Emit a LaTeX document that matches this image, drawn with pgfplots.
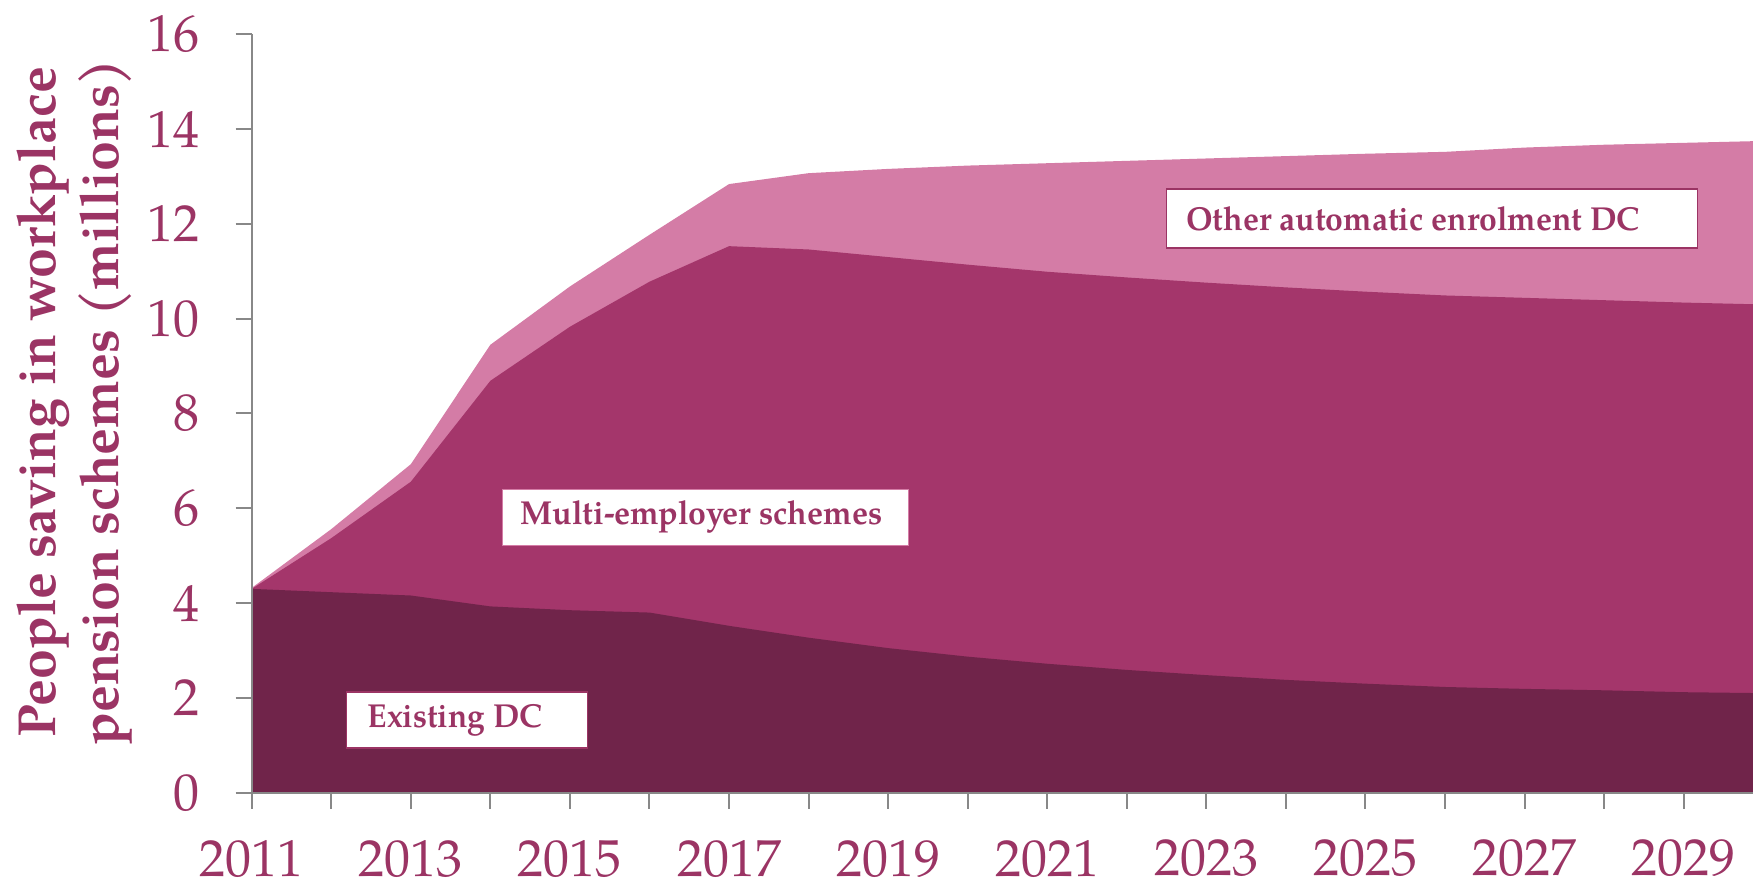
\documentclass[border=0pt]{standalone}
\usepackage{fontspec}
\setmainfont{texgyrepagella}[Extension=.otf,UprightFont=*-regular,BoldFont=*-bold,ItalicFont=*-italic,BoldItalicFont=*-bolditalic]
\usepackage{graphicx}
\usepackage{pgfplots}
\pgfplotsset{compat=1.18}
\usepackage{pgfplotstable}

\definecolor{darkc}{RGB}{112,36,74}
\definecolor{midc}{RGB}{164,54,107}
\definecolor{lightc}{RGB}{212,124,166}
\definecolor{textc}{RGB}{155,52,100}
\definecolor{axisgray}{RGB}{136,136,136}

% cumulative tops of the stacked areas (millions)
\pgfplotstableread{
year existing multi total
2011 4.30 4.30 4.32
2012 4.23 5.37 5.56
2013 4.16 6.56 6.93
2014 3.93 8.69 9.45
2015 3.85 9.83 10.68
2016 3.80 10.78 11.77
2017 3.52 11.53 12.84
2018 3.27 11.46 13.07
2019 3.05 11.30 13.16
2020 2.87 11.14 13.23
2021 2.72 10.99 13.28
2022 2.59 10.87 13.33
2023 2.48 10.76 13.38
2024 2.38 10.66 13.43
2025 2.30 10.57 13.48
2026 2.23 10.49 13.52
2027 2.19 10.44 13.61
2028 2.16 10.39 13.67
2029 2.12 10.34 13.71
2030 2.10 10.30 13.75
}\datatable

\begin{document}
\begin{tikzpicture}
\path[use as bounding box] (0,0) rectangle (876.5pt,441pt);
\begin{axis}[
  at={(125.85pt,44.65pt)}, anchor=south west,
  scale only axis, width=750.65pt, height=379.2pt,
  xmin=2011, xmax=2029.87, ymin=0, ymax=16,
  axis x line*=bottom, axis y line*=left,
  axis line style={draw=axisgray, line width=1pt},
  tick align=outside, major tick length=8pt,
  tick style={draw=axisgray, line width=1pt},
  xtick={2011,...,2029},
  xticklabels={2011,,2013,,2015,,2017,,2019,,2021,,2023,,2025,,2027,,2029},
  ytick={0,2,...,16},
  /pgf/number format/assume math mode=true,
  tick label style={font=\fontsize{26}{30}\selectfont, text=textc},
  xticklabel style={anchor=north, inner sep=0pt, yshift=-15.5pt},
  yticklabel style={anchor=east, inner sep=0pt, xshift=-17.85pt},
  ylabel={People saving in workplace\\pension schemes (millions)},
  ylabel style={at={(axis description cs:-0.1177,0.515)}, anchor=center, align=center,
    font=\fontsize{26.8}{31.5}\selectfont\bfseries, text=textc},
  axis on top,
  clip=true,
]
\addplot[fill=lightc, draw=none] table[x=year, y=total] {\datatable} \closedcycle;
\addplot[fill=midc, draw=none] table[x=year, y=multi] {\datatable} \closedcycle;
\addplot[fill=darkc, draw=none] table[x=year, y=existing] {\datatable} \closedcycle;

\node[anchor=west, draw=textc, line width=0.75pt, fill=white, inner sep=0pt,
  minimum width=265.5pt, minimum height=29.5pt, text=textc,
  font=\fontsize{16.6}{20}\selectfont\bfseries]
  at (axis cs:2022.488,12.114) {\makebox[265.5pt][l]{\hspace{9.8pt}\resizebox{227pt}{\height}{Other automatic enrolment DC}}};
\node[anchor=west, draw=lightc, line width=0.5pt, fill=white, inner sep=0pt,
  minimum width=203pt, minimum height=28pt, text=textc,
  font=\fontsize{16.6}{20}\selectfont\bfseries]
  at (axis cs:2014.145,5.816) {\makebox[203pt][l]{\hspace{9pt}\resizebox{181pt}{\height}{Multi-employer schemes}}};
\node[anchor=west, draw=textc, line width=0.75pt, fill=white, inner sep=0pt,
  minimum width=120.5pt, minimum height=28pt, text=textc,
  font=\fontsize{16.6}{20}\selectfont\bfseries]
  at (axis cs:2012.185,1.534) {\makebox[120.5pt][l]{\hspace{10.5pt}\resizebox{87.3pt}{\height}{Existing DC}}};
\end{axis}
\end{tikzpicture}
\end{document}
